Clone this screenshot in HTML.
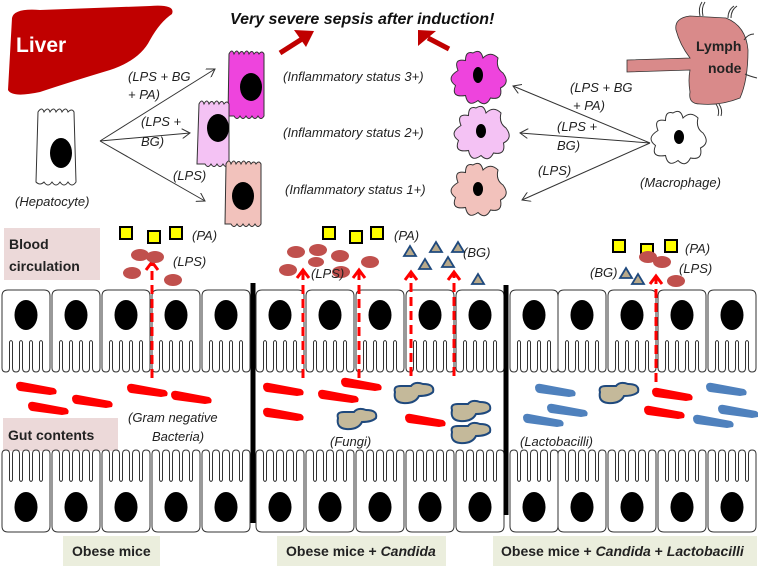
<!DOCTYPE html>
<html><head><meta charset="utf-8"><style>
html,body{margin:0;padding:0;background:#fff;}
svg{display:block;font-family:"Liberation Sans",sans-serif;}
.it{font-style:italic;font-size:13px;fill:#222;}
.lb{font-weight:bold;font-size:14px;fill:#222;}
</style></head><body>
<svg width="758" height="566" viewBox="0 0 758 566" xmlns="http://www.w3.org/2000/svg">
<defs>
<g id="cell">
<path d="M0,6 Q0,0 6,0 H42 Q48,0 48,6 V78 Q48,82 44,82 Q40.5,82 40.5,78 V52 Q39,49 37.5,52 V78 Q37.5,82 34,82 Q30.5,82 30.5,78 V52 Q29,49 27.5,52 V78 Q27.5,82 24,82 Q20.5,82 20.5,78 V52 Q19,49 17.5,52 V78 Q17.5,82 14,82 Q10.5,82 10.5,78 V52 Q9,49 7.5,52 V78 Q7.5,82 4,82 Q0,82 0,78 Z" fill="#fff" stroke="#333" stroke-width="1"/>
<ellipse cx="24" cy="25" rx="11.5" ry="15" fill="#000"/>
</g>
<g id="rod"><path d="M0,0 Q1,-4 6,-3 L38,3 Q42,5 40,9 L34,10 L4,6 Q0,5 0,0Z" fill="#f00"/></g>
<g id="brod"><path d="M0,0 Q1,-4 6,-3 L38,3 Q42,5 40,9 L34,10 L4,6 Q0,5 0,0Z" fill="#4f81bd"/></g>
<g id="fun"><path d="M2,8 Q0,2 8,2 L18,2 Q22,-3 30,0 Q42,0 40,8 Q36,12 26,12 Q22,20 10,19 Q0,18 2,8Z" fill="#c4b99a" stroke="#1f497d" stroke-width="2"/></g>
<g id="tri"><path d="M0,10 L6,0 L12,10Z" fill="#b8a98a" stroke="#1f497d" stroke-width="1.8"/></g>
<rect id="sq" width="12" height="12" fill="#ff0" stroke="#000" stroke-width="2"/>
<g id="mac"><path d="M-4,-20 Q2,-24 4,-16 Q10,-22 16,-16 Q14,-8 20,-4 Q26,4 18,8 Q20,18 10,16 Q6,24 0,18 Q-8,24 -10,14 Q-22,16 -18,6 Q-26,0 -16,-6 Q-20,-16 -10,-14 Q-10,-22 -4,-20Z" stroke="#333" stroke-width="0.8"/></g>
<marker id="ah" markerWidth="10" markerHeight="10" refX="8" refY="5" orient="auto" markerUnits="userSpaceOnUse"><path d="M0,0 L8,5 L0,10" fill="none" stroke="#333" stroke-width="1"/></marker>
</defs>

<!-- Liver -->
<path d="M12,18 Q14,8 40,10 L150,6 Q176,4 172,14 Q160,22 150,40 Q140,60 110,70 Q70,82 40,92 Q12,98 8,90 Z" fill="#c00000"/>
<text x="16" y="52" font-size="21" font-weight="bold" fill="#fff">Liver</text>

<text x="230" y="24" font-size="16" font-weight="bold" font-style="italic" fill="#111">Very severe sepsis after induction!</text>
<path d="M280,53 L302,39" stroke="#c00000" stroke-width="5"/><path d="M294,30 L314,31 L306,47 Z" fill="#c00000"/>
<path d="M449,49 L428,38" stroke="#c00000" stroke-width="5"/><path d="M418,46 L418,30 L436,31 Z" fill="#c00000"/>

<!-- Lymph node -->
<path d="M627,60 L690,58 Q680,45 676,30 Q674,18 690,16 L726,18 Q746,26 748,50 Q748,80 740,98 Q720,106 700,104 Q688,104 690,92 Q688,80 690,70 L627,72 Z" fill="#d98a8a" stroke="#333" stroke-width="0.8"/>
<g stroke="#333" fill="none" stroke-width="1"><path d="M700,16 q-2,-8 2,-14 M703,16 q-2,-8 2,-14 M728,18 q0,-8 6,-12 M731,18 q0,-8 6,-12 M744,40 q4,-6 10,-6 M745,74 q4,2 12,4 M716,104 q4,6 2,12 M719,104 q4,6 2,12"/></g>
<text x="696" y="51" class="lb" font-size="15">Lymph</text>
<text x="708" y="73" class="lb" font-size="15">node</text>

<!-- Hepatocyte -->
<path d="M38,112 q4,-6 6,0 q4,-6 6,0 q4,-6 6,0 q4,-6 6,0 q4,-6 6,0 q4,-4 6,0 l2,70 q-4,6 -8,0 q-4,6 -8,0 q-4,6 -8,0 q-4,6 -8,0 q-4,4 -8,0 Z" fill="#fff" stroke="#333"/>
<ellipse cx="61" cy="153" rx="11" ry="15" fill="#000"/>
<text x="15" y="206" class="it">(Hepatocyte)</text>
<g stroke="#333" stroke-width="1" marker-end="url(#ah)">
<line x1="100" y1="141" x2="215" y2="69"/><line x1="100" y1="141" x2="190" y2="133"/><line x1="100" y1="141" x2="205" y2="201"/>
</g>
<text x="128" y="81" class="it">(LPS + BG</text><text x="128" y="99" class="it">+ PA)</text>
<text x="141" y="126" class="it">(LPS +</text><text x="141" y="146" class="it">BG)</text>
<text x="173" y="180" class="it">(LPS)</text>
<!-- colored hepatocytes -->
<path d="M229,54 q3,-6 5,0 q3,-6 5,0 q3,-5 5,0 q3,-6 5,0 q3,-5 5,0 q3,-4 5,0 q3,-4 5,0 l0,62 q-3,5 -6,0 q-3,5 -6,0 q-3,5 -6,0 q-3,5 -6,0 q-3,5 -6,0 l-6,0 Z" fill="#ee44dd" stroke="#333"/>
<ellipse cx="251" cy="87" rx="11" ry="14" fill="#000"/>
<path d="M199,104 q3,-6 5,0 q3,-6 5,0 q3,-5 5,0 q3,-6 5,0 q3,-5 5,0 q3,-4 5,0 l0,60 q-3,5 -6,0 q-3,5 -6,0 q-3,5 -6,0 q-3,5 -6,0 l-8,0 Z" fill="#f4c2f4" stroke="#333"/>
<ellipse cx="218" cy="128" rx="11" ry="14" fill="#000"/>
<path d="M226,164 q3,-6 5,0 q3,-6 5,0 q3,-5 5,0 q3,-6 5,0 q3,-5 5,0 q3,-4 5,0 q3,-4 5,0 l0,60 q-3,5 -6,0 q-3,5 -6,0 q-3,5 -6,0 q-3,5 -6,0 q-3,5 -6,0 l-6,0 Z" fill="#f2c2bc" stroke="#333"/>
<ellipse cx="243" cy="196" rx="11" ry="14" fill="#000"/>
<text x="283" y="81" class="it">(Inflammatory status 3+)</text>
<text x="283" y="137" class="it">(Inflammatory status 2+)</text>
<text x="285" y="194" class="it">(Inflammatory status 1+)</text>

<!-- Macrophages -->
<use href="#mac" transform="translate(478,78) scale(1.25)" fill="#ee44dd"/>
<ellipse cx="478" cy="75" rx="5" ry="8" fill="#000"/>
<use href="#mac" transform="translate(481,133) scale(1.25)" fill="#f4c2f4"/>
<ellipse cx="481" cy="131" rx="5" ry="7" fill="#000"/>
<use href="#mac" transform="translate(478,190) scale(1.25)" fill="#f2c2bc"/>
<ellipse cx="478" cy="189" rx="5" ry="7" fill="#000"/>
<use href="#mac" transform="translate(678,138) scale(1.25)" fill="#fff"/>
<ellipse cx="679" cy="137" rx="5" ry="7" fill="#000"/>
<g stroke="#333" stroke-width="1" marker-end="url(#ah)">
<line x1="650" y1="143" x2="513" y2="86"/><line x1="650" y1="143" x2="520" y2="133"/><line x1="650" y1="143" x2="522" y2="200"/>
</g>
<text x="570" y="92" class="it">(LPS + BG</text><text x="573" y="110" class="it">+ PA)</text>
<text x="557" y="131" class="it">(LPS +</text><text x="557" y="150" class="it">BG)</text>
<text x="538" y="175" class="it">(LPS)</text>
<text x="640" y="187" class="it">(Macrophage)</text>

<!-- side labels -->
<rect x="4" y="228" width="96" height="52" fill="#ecd9d9"/>
<text x="9" y="249" class="lb" font-size="15">Blood</text><text x="9" y="271" class="lb" font-size="15">circulation</text>
<rect x="3" y="418" width="115" height="33" fill="#ecd9d9"/>
<text x="8" y="440" class="lb" font-size="15">Gut contents</text>

<!-- epithelium top -->
<g transform="translate(0,290)">
<use href="#cell" x="2"/><use href="#cell" x="52"/><use href="#cell" x="102"/><use href="#cell" x="152"/><use href="#cell" x="202"/>
<use href="#cell" x="256"/><use href="#cell" x="306"/><use href="#cell" x="356"/><use href="#cell" x="406"/><use href="#cell" x="456"/>
<use href="#cell" x="510"/><use href="#cell" x="558"/><use href="#cell" x="608"/><use href="#cell" x="658"/><use href="#cell" x="708"/>
</g>
<!-- epithelium bottom -->
<g transform="translate(0,532) scale(1,-1)">
<use href="#cell" x="2"/><use href="#cell" x="52"/><use href="#cell" x="102"/><use href="#cell" x="152"/><use href="#cell" x="202"/>
<use href="#cell" x="256"/><use href="#cell" x="306"/><use href="#cell" x="356"/><use href="#cell" x="406"/><use href="#cell" x="456"/>
<use href="#cell" x="510"/><use href="#cell" x="558"/><use href="#cell" x="608"/><use href="#cell" x="658"/><use href="#cell" x="708"/>
</g>
<line x1="253" y1="283" x2="253" y2="523" stroke="#000" stroke-width="5"/>
<line x1="506" y1="285" x2="506" y2="515" stroke="#000" stroke-width="5"/>

<!-- red dashed arrows -->
<g stroke="#f00" stroke-width="3" fill="none">
<line x1="152" y1="378" x2="152" y2="264" stroke-dasharray="9,5"/><path d="M146,270 L152,262 L158,270"/>
<line x1="303" y1="378" x2="303" y2="272" stroke-dasharray="9,5"/><path d="M297,278 L303,270 L309,278"/>
<line x1="359" y1="378" x2="359" y2="272" stroke-dasharray="9,5"/><path d="M353,278 L359,270 L365,278"/>
<line x1="411" y1="376" x2="411" y2="274" stroke-dasharray="9,5"/><path d="M405,280 L411,272 L417,280"/>
<line x1="454" y1="376" x2="454" y2="274" stroke-dasharray="9,5"/><path d="M448,280 L454,272 L460,280"/>
<line x1="656" y1="382" x2="656" y2="278" stroke-dasharray="9,5"/><path d="M650,284 L656,276 L662,284"/>
</g>

<!-- blood molecules panel 1 -->
<use href="#sq" x="120" y="227"/><use href="#sq" x="148" y="231"/><use href="#sq" x="170" y="227"/>
<text x="192" y="240" class="it">(PA)</text>
<g fill="#c0504d"><ellipse cx="140" cy="255" rx="9" ry="6"/><ellipse cx="155" cy="257" rx="9" ry="6"/><ellipse cx="132" cy="273" rx="9" ry="6"/><ellipse cx="173" cy="280" rx="9" ry="6"/></g>
<text x="173" y="266" class="it">(LPS)</text>

<!-- panel 2 -->
<use href="#sq" x="323" y="227"/><use href="#sq" x="350" y="231"/><use href="#sq" x="371" y="227"/>
<text x="394" y="240" class="it">(PA)</text>
<g fill="#c0504d"><ellipse cx="296" cy="252" rx="9" ry="6"/><ellipse cx="318" cy="250" rx="9" ry="6"/><ellipse cx="340" cy="256" rx="9" ry="6"/><ellipse cx="288" cy="270" rx="9" ry="6"/><ellipse cx="341" cy="272" rx="9" ry="6"/><ellipse cx="370" cy="262" rx="9" ry="6"/><ellipse cx="316" cy="262" rx="8" ry="5"/></g>
<text x="311" y="278" class="it">(LPS)</text>
<use href="#tri" x="404" y="246"/><use href="#tri" x="430" y="242"/><use href="#tri" x="452" y="242"/><use href="#tri" x="419" y="259"/><use href="#tri" x="442" y="257"/><use href="#tri" x="472" y="274"/>
<text x="463" y="257" class="it">(BG)</text>

<!-- panel 3 -->
<use href="#sq" x="613" y="240"/><use href="#sq" x="641" y="244"/><use href="#sq" x="665" y="240"/>
<text x="685" y="253" class="it">(PA)</text>
<g fill="#c0504d"><ellipse cx="648" cy="257" rx="9" ry="6"/><ellipse cx="662" cy="262" rx="9" ry="6"/><ellipse cx="676" cy="281" rx="9" ry="6"/></g>
<text x="679" y="273" class="it">(LPS)</text>
<use href="#tri" x="620" y="268"/><use href="#tri" x="632" y="274"/>
<text x="590" y="277" class="it">(BG)</text>

<!-- gut contents panel 1 -->
<use href="#rod" x="16" y="385"/><use href="#rod" x="28" y="405"/><use href="#rod" x="72" y="398"/><use href="#rod" x="127" y="387"/><use href="#rod" x="171" y="394"/>
<text x="128" y="422" class="it">(Gram negative</text><text x="152" y="441" class="it">Bacteria)</text>
<!-- panel 2 -->
<use href="#rod" x="263" y="386"/><use href="#rod" x="263" y="411"/><use href="#rod" x="318" y="393"/><use href="#rod" x="341" y="381"/><use href="#rod" x="405" y="417"/>
<use href="#fun" x="336" y="410"/><use href="#fun" x="393" y="384"/><use href="#fun" x="450" y="402"/><use href="#fun" x="450" y="424"/>
<text x="330" y="446" class="it">(Fungi)</text>
<!-- panel 3 -->
<use href="#brod" x="535" y="387"/><use href="#brod" x="547" y="407"/><use href="#brod" x="523" y="417"/><use href="#brod" x="706" y="386"/><use href="#brod" x="718" y="408"/><use href="#brod" x="693" y="418"/>
<use href="#fun" x="598" y="384"/>
<use href="#rod" x="652" y="391"/><use href="#rod" x="644" y="409"/>
<text x="520" y="446" class="it">(Lactobacilli)</text>

<!-- bottom labels -->
<rect x="63" y="536" width="97" height="30" fill="#ebeedd"/>
<text x="72" y="556" class="lb" font-size="13">Obese mice</text>
<rect x="277" y="536" width="169" height="30" fill="#ebeedd"/>
<text x="286" y="556" class="lb" font-size="13">Obese mice + <tspan font-style="italic">Candida</tspan></text>
<rect x="493" y="536" width="264" height="30" fill="#ebeedd"/>
<text x="501" y="556" class="lb" font-size="13">Obese mice + <tspan font-style="italic">Candida</tspan> + <tspan font-style="italic">Lactobacilli</tspan></text>
</svg>
</body></html>
